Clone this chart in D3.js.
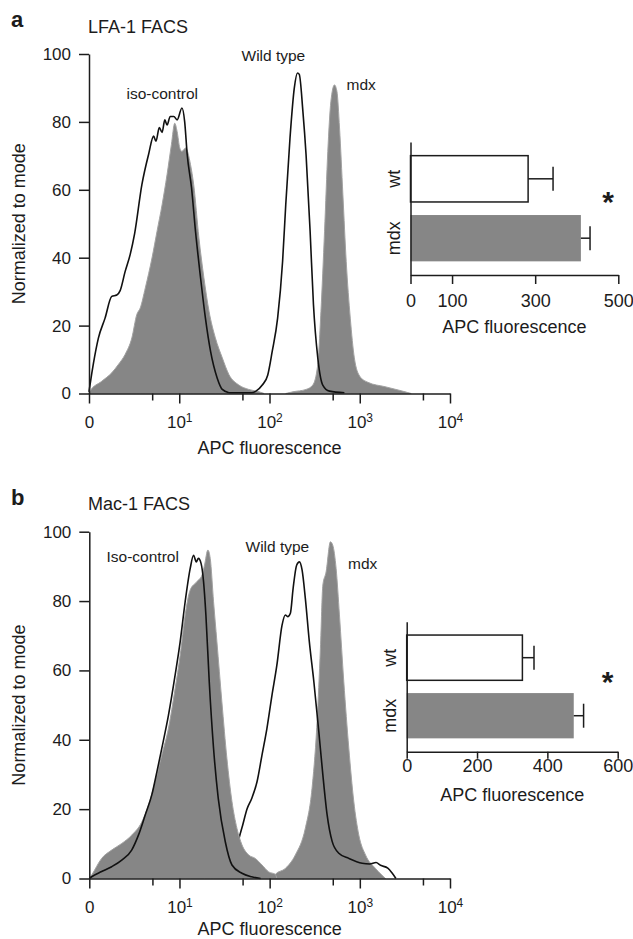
<!DOCTYPE html>
<html>
<head>
<meta charset="utf-8">
<script src="https://cdn.jsdelivr.net/npm/d3@7"></script>
<style>
  body { margin: 0; background: #fff; }
  svg { display: block; font-family: "Liberation Sans", Arial, Helvetica, sans-serif; }
</style>
</head>
<body>
<div id="chart"></div>
<script>
// x values of the histograms are in decades of the display axis (0 .. 10^4), y is % of mode
const decadeTicks = [0, 1, 2, 3, 4];
const decadeExponents = ["", "1", "2", "3", "4"];
const minorTicks = [0.7, 1.7, 2.7, 3.7];
const modeTicks = [0, 20, 40, 60, 80, 100];

// panel a, LFA-1
const lfaIsoFill = [[0,0],[0.011,0.7],[0.141,3.6],[0.252,6.1],[0.327,8.6],[0.40,11.5],[0.475,16.4],[0.53,23.3],[0.568,25.2],[0.624,31.1],[0.698,39.9],[0.754,47.8],[0.81,55.6],[0.865,64.5],[0.913,73.3],[0.95,79.6],[0.976,77.2],[1.006,72.3],[1.03,71.3],[1.07,72.3],[1.125,67.4],[1.16,61.5],[1.218,45.8],[1.273,34.1],[1.33,24.2],[1.40,16.4],[1.477,10.5],[1.55,5.6],[1.66,2.5],[1.77,1.2],[1.885,0.5],[1.94,0]];
const lfaMdxFill = [[2.18,0],[2.26,0.5],[2.405,1.2],[2.48,2.5],[2.535,8.6],[2.57,24.2],[2.61,47.8],[2.646,71.3],[2.68,86],[2.72,90.9],[2.747,89],[2.776,78.2],[2.813,58.6],[2.85,38.9],[2.895,22.2],[2.94,10.5],[3.0,5.1],[3.09,3.3],[3.28,2],[3.46,0.8],[3.57,0]];
const lfaIsoLine = [[0,0.5],[0.011,2.5],[0.05,9],[0.104,16.3],[0.178,22.2],[0.252,28.6],[0.308,29],[0.345,30.3],[0.40,35.9],[0.456,40.9],[0.505,47],[0.586,61.5],[0.66,70.4],[0.716,75.8],[0.742,74.3],[0.779,78.3],[0.81,76.9],[0.84,80.6],[0.865,79.1],[0.90,81.6],[0.94,81.6],[0.976,80.6],[1.03,84.1],[1.06,80.1],[1.088,70.4],[1.136,60.6],[1.18,47.8],[1.236,34.1],[1.29,22.2],[1.347,12.4],[1.42,4.6],[1.477,1.2],[1.55,0.2]];
const lfaWtLine = [[1.55,0.2],[1.8,0.2],[1.85,0.7],[1.92,2.5],[1.98,5.4],[2.03,12.4],[2.09,22.2],[2.145,38.9],[2.18,55.6],[2.227,75.2],[2.275,90],[2.31,94.4],[2.33,94],[2.37,83.1],[2.405,70.4],[2.45,47.8],[2.487,26.2],[2.535,10.5],[2.59,2.5],[2.665,0.7],[2.83,0.2]];

// panel b, Mac-1
const macIsoFill = [[0,0],[0.026,1],[0.137,5.8],[0.248,8.2],[0.36,10.1],[0.47,12.5],[0.582,16.3],[0.656,21.1],[0.73,27.9],[0.804,35.6],[0.878,43.3],[0.952,54.8],[1.008,64.4],[1.063,76],[1.119,83.2],[1.193,85.6],[1.25,87.5],[1.278,90.4],[1.315,94.7],[1.341,92.3],[1.378,79.8],[1.415,68.3],[1.47,51],[1.526,34.6],[1.582,22.2],[1.637,14.5],[1.693,9.7],[1.767,6.8],[1.84,5.8],[1.915,3.9],[1.99,1.9],[2.063,1.2],[2.08,0]];
const macMdxFill = [[2.04,0],[2.063,1.2],[2.174,2.9],[2.285,6.8],[2.396,14.5],[2.47,26],[2.526,45.2],[2.563,66.4],[2.59,84.6],[2.626,88.4],[2.674,97.1],[2.7,96.1],[2.737,89.4],[2.774,76],[2.822,56.8],[2.878,37.5],[2.933,22.2],[2.989,12.5],[3.063,6.8],[3.174,2.9],[3.285,0]];
const macIsoLine = [[0,0],[0.026,0.5],[0.137,2],[0.248,3.4],[0.36,5.3],[0.47,8.2],[0.545,12.5],[0.62,18.3],[0.693,24.1],[0.75,30.8],[0.804,37.5],[0.878,47.1],[0.952,58.7],[1.008,68.3],[1.063,79.8],[1.119,89.4],[1.156,93.2],[1.186,91.3],[1.21,92.3],[1.24,90.8],[1.267,85.6],[1.293,76],[1.33,56.8],[1.378,37.5],[1.43,23.1],[1.508,10.6],[1.582,3.9],[1.693,1.5],[1.8,0.5],[1.9,0]];
const macWtLine = [[1.40,0.5],[1.50,1.5],[1.58,4],[1.63,8],[1.66,11.5],[1.70,15.3],[1.75,20.1],[1.8,23],[1.86,27.9],[1.915,35.6],[1.97,43.3],[2.026,52.9],[2.08,61.5],[2.137,73],[2.174,76],[2.2,75.5],[2.23,76.5],[2.26,83.6],[2.3,90.4],[2.33,91.3],[2.36,88.9],[2.396,80.7],[2.44,68.3],[2.49,56.8],[2.545,42.4],[2.59,29.9],[2.637,18.4],[2.693,10.7],[2.767,7.3],[2.878,5.8],[3.026,4.4],[3.11,4.2],[3.18,4.6],[3.23,3.8],[3.31,3],[3.36,1.5],[3.40,0]];

// bar insets: mean APC fluorescence +/- error
const insetGroups = ["wt", "mdx"];
const lfaMeans = [283, 410];
const lfaErrors = [60, 22];
const lfaBarTicks = [0, 100, 300, 500];
const macMeans = [329, 475];
const macErrors = [33, 28];
const macBarTicks = [0, 200, 400, 600];

const ink = "#1c1c1c";
const grayFill = "#868686";
const grayEdge = "#a2a2a2";

const svg = d3.select("#chart").append("svg")
  .attr("width", 633)
  .attr("height", 939);

//style an axis group that d3 just built
function styleAxis(sel, fontSize) {
  sel.attr("font-family", null).attr("font-size", null);
  sel.select(".domain").attr("stroke", ink).attr("stroke-width", 1.5);
  sel.selectAll(".tick line").attr("stroke", ink).attr("stroke-width", 1.5);
  sel.selectAll(".tick text").attr("fill", ink).style("font-size", fontSize + "px");
}

//draw one histogram overlay panel
function drawPanel(p) {
  const x = d3.scaleLinear().domain([0, 4]).range([p.left, p.right]);
  const y = d3.scaleLinear().domain([0, 100]).range([p.bottom, p.top]);
  const g = svg.append("g");

  const area = d3.area()
    .x(d => x(d[0]))
    .y0(y(0))
    .y1(d => y(d[1]))
    .curve(d3.curveMonotoneX);
  const line = d3.line()
    .x(d => x(d[0]))
    .y(d => y(d[1]))
    .curve(d3.curveMonotoneX);

  //layers in drawing order: gray filled histograms and black outlines
  p.layers.forEach(l => {
    if (l.fill) {
      g.append("path").datum(l.fill)
        .attr("d", area)
        .attr("fill", grayFill)
        .attr("stroke", grayEdge)
        .attr("stroke-width", 1);
    } else {
      g.append("path").datum(l.line)
        .attr("d", line)
        .attr("fill", "none")
        .attr("stroke", "#111")
        .attr("stroke-width", 1.6)
        .attr("stroke-linejoin", "round");
    }
  });

  //y axis
  const yg = g.append("g")
    .attr("transform", `translate(${p.left},0)`)
    .call(d3.axisLeft(y).tickValues(modeTicks).tickSize(10).tickSizeOuter(0).tickPadding(8));
  styleAxis(yg, 17);

  //x axis, labels as powers of ten
  const xg = g.append("g")
    .attr("transform", `translate(0,${p.bottom})`)
    .call(d3.axisBottom(x).tickValues(decadeTicks).tickSize(10).tickSizeOuter(0).tickPadding(12));
  styleAxis(xg, 17);
  xg.selectAll(".tick text").each(function(d, i) {
    const t = d3.select(this).text(null);
    if (i === 0) { t.text("0"); return; }
    t.append("tspan").text("10");
    t.append("tspan").attr("dy", "-0.45em").style("font-size", "12px").text(decadeExponents[i]);
  });

  //minor ticks at 5 x each decade
  const mg = g.append("g")
    .attr("transform", `translate(0,${p.bottom})`)
    .call(d3.axisBottom(x).tickValues(minorTicks).tickSize(7).tickFormat(""));
  mg.select(".domain").remove();
  styleAxis(mg, 17);

  //axis titles
  g.append("text")
    .attr("transform", `translate(25,${(p.top + p.bottom) / 2}) rotate(-90)`)
    .attr("text-anchor", "middle")
    .attr("fill", ink)
    .style("font-size", "18px")
    .text("Normalized to mode");
  g.append("text")
    .attr("x", (p.left + p.right) / 2)
    .attr("y", p.bottom + p.labelGap)
    .attr("text-anchor", "middle")
    .attr("fill", ink)
    .style("font-size", "18px")
    .text("APC fluorescence");

  //panel letter and title
  g.append("text")
    .attr("x", 11).attr("y", p.letterY)
    .attr("fill", ink)
    .style("font-size", "22px")
    .style("font-weight", "bold")
    .text(p.letter);
  g.append("text")
    .attr("x", 88).attr("y", p.titleY)
    .attr("fill", ink)
    .style("font-size", "18px")
    .text(p.title);

  //curve names
  p.notes.forEach(n => {
    g.append("text")
      .attr("x", n.x).attr("y", n.y)
      .attr("fill", ink)
      .style("font-size", "15.5px")
      .text(n.text);
  });
}

//draw the little horizontal bar chart
function drawInset(p) {
  const x = d3.scaleLinear().domain([0, p.ticks[p.ticks.length - 1]]).range([p.left, p.right]);
  const y = d3.scaleBand().domain(insetGroups).range([p.top, p.bottom]).paddingInner(0.22).paddingOuter(0.23);
  const g = svg.append("g");
  const rows = insetGroups.map((k, i) => ({ key: k, mean: p.means[i], err: p.errors[i] }));

  g.selectAll("rect.bar")
    .data(rows)
    .enter()
    .append("rect")
      .attr("class", "bar")
      .attr("x", x(0))
      .attr("y", d => y(d.key))
      .attr("width", d => x(d.mean) - x(0))
      .attr("height", y.bandwidth())
      .attr("fill", d => d.key === "wt" ? "#fff" : grayFill)
      .attr("stroke", d => d.key === "wt" ? ink : "none")
      .attr("stroke-width", 1.5);

  //error bars
  rows.forEach(d => {
    const cy = y(d.key) + y.bandwidth() / 2;
    g.append("line")
      .attr("x1", x(d.mean)).attr("x2", x(d.mean + d.err))
      .attr("y1", cy).attr("y2", cy)
      .attr("stroke", ink).attr("stroke-width", 1.5);
    g.append("line")
      .attr("x1", x(d.mean + d.err)).attr("x2", x(d.mean + d.err))
      .attr("y1", cy - 12).attr("y2", cy + 12)
      .attr("stroke", ink).attr("stroke-width", 1.5);
  });

  //axes
  const yg = g.append("g")
    .attr("transform", `translate(${p.left},0)`)
    .call(d3.axisLeft(y).tickSize(0).tickSizeOuter(0).tickFormat(""));
  styleAxis(yg, 18);
  const xg = g.append("g")
    .attr("transform", `translate(0,${p.bottom})`)
    .call(d3.axisBottom(x).tickValues(p.ticks).tickSize(p.tickLen).tickSizeOuter(0).tickPadding(p.tickPad));
  styleAxis(xg, 18);

  //rotated group names
  rows.forEach(d => {
    g.append("text")
      .attr("transform", `translate(${p.left - 11},${y(d.key) + y.bandwidth() / 2}) rotate(-90)`)
      .attr("text-anchor", "middle")
      .attr("fill", ink)
      .style("font-size", "18px")
      .text(d.key);
  });

  g.append("text")
    .attr("x", (p.left + p.right) / 2)
    .attr("y", p.labelY)
    .attr("text-anchor", "middle")
    .attr("fill", ink)
    .style("font-size", "18px")
    .text("APC fluorescence");

  //significance star
  g.append("text")
    .attr("x", p.starX).attr("y", p.starY)
    .attr("text-anchor", "middle")
    .attr("fill", ink)
    .style("font-size", "30px")
    .style("font-weight", "bold")
    .text("*");
}

drawPanel({
  left: 89, right: 450, top: 54, bottom: 393.5, labelGap: 60,
  layers: [{ fill: lfaIsoFill }, { fill: lfaMdxFill }, { line: lfaIsoLine }, { line: lfaWtLine }],
  letter: "a", letterY: 27, title: "LFA-1 FACS", titleY: 33,
  notes: [
    { text: "iso-control", x: 126.5, y: 98.5 },
    { text: "Wild type", x: 241.5, y: 61 },
    { text: "mdx", x: 346.5, y: 90 }
  ]
});

drawPanel({
  left: 89.3, right: 450, top: 531.7, bottom: 878.5, labelGap: 56,
  layers: [{ fill: macMdxFill }, { line: macWtLine }, { fill: macIsoFill }, { line: macIsoLine }],
  letter: "b", letterY: 505, title: "Mac-1 FACS", titleY: 510,
  notes: [
    { text: "Iso-control", x: 106.5, y: 562 },
    { text: "Wild type", x: 245.5, y: 552 },
    { text: "mdx", x: 348, y: 568.5 }
  ]
});

drawInset({
  left: 410.5, right: 618.3, top: 142, bottom: 275,
  means: lfaMeans, errors: lfaErrors, ticks: lfaBarTicks,
  tickLen: 9, tickPad: 10, labelY: 333,
  starX: 608, starY: 212
});

drawInset({
  left: 406.7, right: 617.7, top: 621.7, bottom: 751.7,
  means: macMeans, errors: macErrors, ticks: macBarTicks,
  tickLen: 7, tickPad: 1, labelY: 801,
  starX: 607.5, starY: 692
});
</script>
</body>
</html>
